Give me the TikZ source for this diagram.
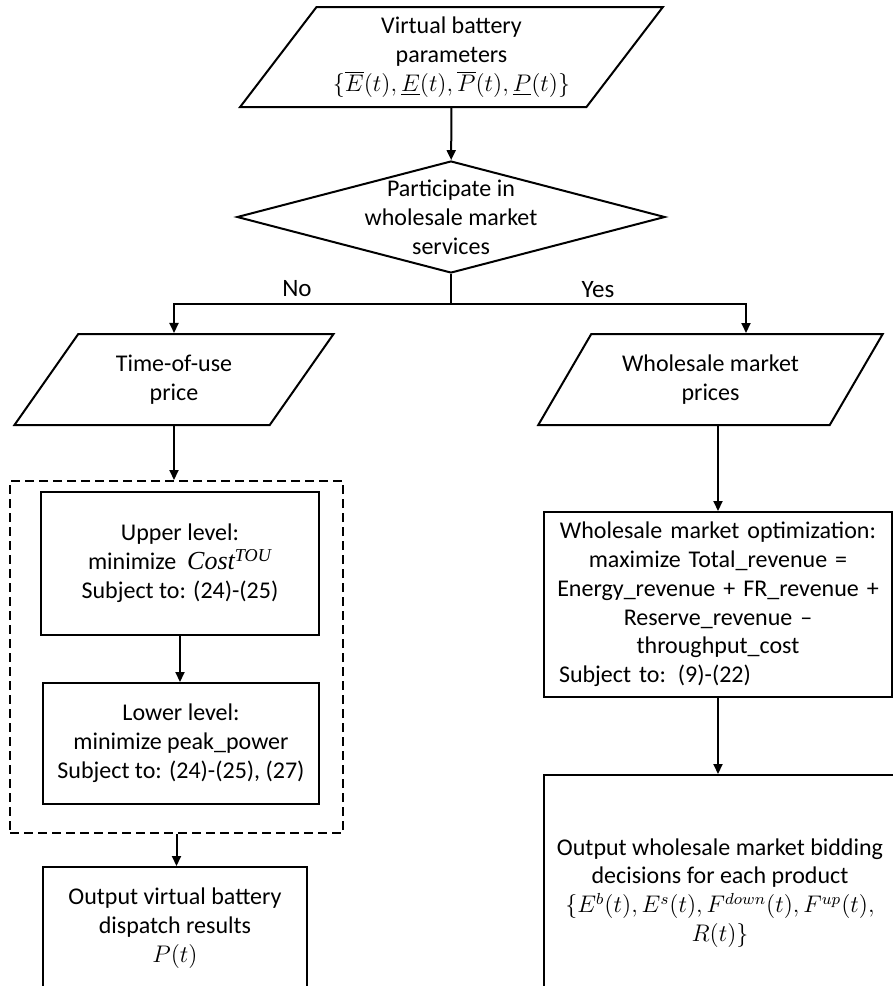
\documentclass[tikz,border=0pt]{standalone}
\usepackage{fontspec}
\setmainfont{Carlito}
\newfontfamily\timesfont{Liberation Serif}
\usetikzlibrary{shapes.geometric,arrows.meta}

\begin{document}
\begin{tikzpicture}[x=.5pt, y=-.5pt, line width=1pt,
        font=\fontsize{12}{14.4}\selectfont,
        arr/.style={-{Triangle[length=5pt,width=4.5pt]}},
        para/.style={draw, trapezium, trapezium left angle=53, trapezium right angle=127, trapezium stretches=true, align=center, inner sep=1pt},
        procbox/.style={draw, rectangle, align=center, inner sep=0pt},
        decision/.style={draw, diamond, minimum width=214pt, minimum height=56pt, inner sep=0pt},
        answer/.style={font=\fontsize{12.5}{15}\selectfont}]

        \useasboundingbox (0,0) rectangle (893,986);
        \clip (0,0) rectangle (893,986);

        % input and decision
        \node[para, trapezium left angle=51, trapezium right angle=129, minimum width=211.5pt, minimum height=50pt] (vbp) at (451.5,57)
            {Virtual battery\\parameters\\$\{\overline{E}(t),\underline{E}(t),\overline{P}(t),\underline{P}(t)\}$};
        \node[decision, label={[align=center]center:Participate in\\wholesale market\\services}] (part) at (451,217) {};
        \draw[arr] (vbp) -- (part);

        \coordinate (fork) at (451,304);
        \coordinate (yesx) at (746,304);
        \node[answer] (no) at (297,289) {No};
        \node[answer] (yes) at (598,290) {Yes};

        \node[para, minimum width=161pt, minimum height=45.5pt] (tou) at (174,379.5) {Time-of-use\\price};
        \node[para, minimum width=172.5pt, minimum height=45.5pt] (wmp) at (710.5,379.5) {Wholesale market\\prices};

        \draw (part.south) -- (fork);
        \draw[arr] (fork) -| (tou);
        \draw[arr] (fork) -- (yesx) -- (yesx |- wmp.top side);

        % time-of-use branch
        \node[draw, dash pattern=on 4.5pt off 2.5pt, minimum width=166.5pt, minimum height=176pt] (bilevel) at (176.5,657) {};
        \node[procbox, minimum width=139pt, minimum height=71.5pt] (upper) at (180,563.5)
            {Upper level:\\minimize \ {\timesfont\itshape\fontsize{13}{14.4}\selectfont Cost\textsuperscript{TOU}}\\Subject to: (24)-(25)};
        \node[procbox, minimum width=138pt, minimum height=60.5pt] (lower) at (181,743.5)
            {Lower level:\\minimize peak\_power\\Subject to: (24)-(25), (27)};
        \node[procbox, minimum width=132pt, minimum height=61pt] (outv) at (175,928)
            {Output virtual battery\\dispatch results\\$P(t)$};

        \draw[arr] (tou.center |- tou.bottom side) -- (tou.center |- bilevel.north);
        \draw[arr] (upper.south) -- (upper.south |- lower.north);
        \draw[arr] (bilevel.south) -- (bilevel.south |- outv.north);

        % wholesale branch
        \node[procbox, text width=172pt, inner xsep=1pt, minimum height=92.5pt] (opt) at (718,604.5)
            {Wholesale market optimization:\\maximize Total\_revenue =\\Energy\_revenue + FR\_revenue +\\Reserve\_revenue --\\throughput\_cost\\\makebox[172pt][l]{\hspace*{6.5pt}Subject to: (9)-(22)}};
        \node[procbox, minimum width=176pt, minimum height=118pt] (bid) at (720,893)
            {Output wholesale market bidding\\decisions for each product\\$\{E^b(t),E^s(t),F^{down}(t),F^{up}(t),$\\$R(t)\}$};

        \draw[arr] (opt.north |- wmp.bottom side) -- (opt.north);
        \draw[arr] (opt.south) -- (opt.south |- bid.north);

    \end{tikzpicture}
\end{document}
